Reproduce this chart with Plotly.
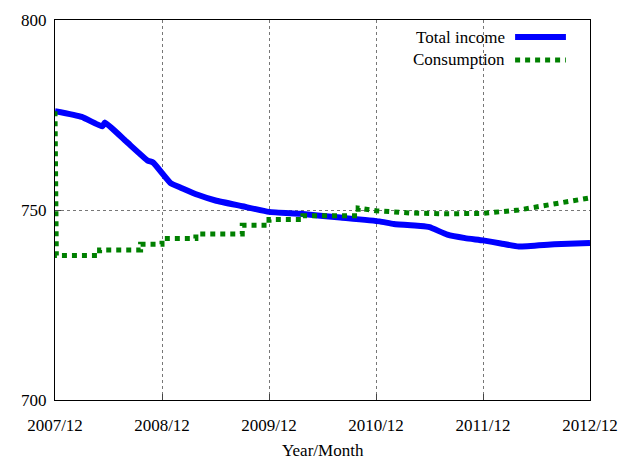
import plotly.graph_objects as go

tick_labels = ["2007/12", "2008/12", "2009/12", "2010/12", "2011/12", "2012/12"]
tick_months = [0, 12, 24, 36, 48, 60]

income_months = [0, 3, 5.3, 5.6, 8, 10.4, 11, 13, 14, 16, 18, 21, 24, 27.5, 32, 36.4, 38, 41, 42, 44, 46, 48, 50, 52, 56, 60]
income_values = [776, 774.5, 772, 773, 768, 763, 762.5, 757, 756, 754, 752.5, 751, 749.5, 749, 748, 747, 746.3, 745.8, 745.5, 743.5, 742.6, 742, 741.2, 740.4, 741, 741.3]

cons_months = [0, 0.15, 5, 5, 9.6, 9.6, 12, 12, 15.8, 15.8, 21, 21, 24, 24, 27.8, 27.8, 34, 34, 36, 40, 44, 48, 52, 56, 60]
cons_values = [776, 738, 738, 739.5, 739.5, 741, 741, 742.5, 742.5, 743.7, 743.7, 746, 746, 747.5, 747.5, 748.5, 748.5, 750.5, 749.8, 749.2, 749, 749.1, 750, 751.5, 753.2]

fig = go.Figure()
fig.add_trace(go.Scatter(x=income_months, y=income_values, mode="lines",
                         line=dict(color="#0000ff", width=6, shape="spline", smoothing=0.4), name="Total income"))
fig.add_trace(go.Scatter(x=cons_months, y=cons_values, mode="lines",
                         line=dict(color="#008000", width=5, dash="dot"), name="Consumption"))

font = dict(family="Liberation Serif", size=17, color="black")
fig.update_layout(
    width=611, height=453, plot_bgcolor="white", paper_bgcolor="white",
    margin=dict(l=47, r=29, t=12, b=61, autoexpand=False), font=font, showlegend=False,
    xaxis=dict(range=[0, 60], tickvals=tick_months, ticktext=tick_labels, automargin=False,
               tickfont=dict(size=17), ticklabelstandoff=10,
               showgrid=True, gridcolor="#777", griddash="dot", gridwidth=0.5,
               showline=True, linecolor="black", mirror=True, ticks="inside",
               ticklen=6, zeroline=False),
    yaxis=dict(range=[700, 800], tickvals=[700, 750, 800], automargin=False,
               tickfont=dict(size=17), ticklabelstandoff=4,
               showgrid=True, gridcolor="#777", griddash="dot", gridwidth=0.5,
               showline=True, linecolor="black", mirror=True, ticks="inside",
               ticklen=6, zeroline=False),
)
fig.add_annotation(x=0.5, y=0, xref="paper", yref="paper", text="Year/Month", showarrow=False,
                   yanchor="middle", yshift=-50, font=font)
for i, (name, color, dash, w) in enumerate([("Total income", "#0000ff", "solid", 6),
                                             ("Consumption", "#008000", "dot", 5)]):
    yp = 0.955 - i * 0.06
    fig.add_annotation(x=0.845, y=yp, xref="paper", yref="paper", text=name,
                       showarrow=False, xanchor="right", yanchor="middle", font=font)
    fig.add_shape(type="line", xref="paper", yref="paper", x0=0.86, x1=0.955, y0=yp, y1=yp,
                  line=dict(color=color, width=w, dash=dash))
fig.write_html("out.html")
